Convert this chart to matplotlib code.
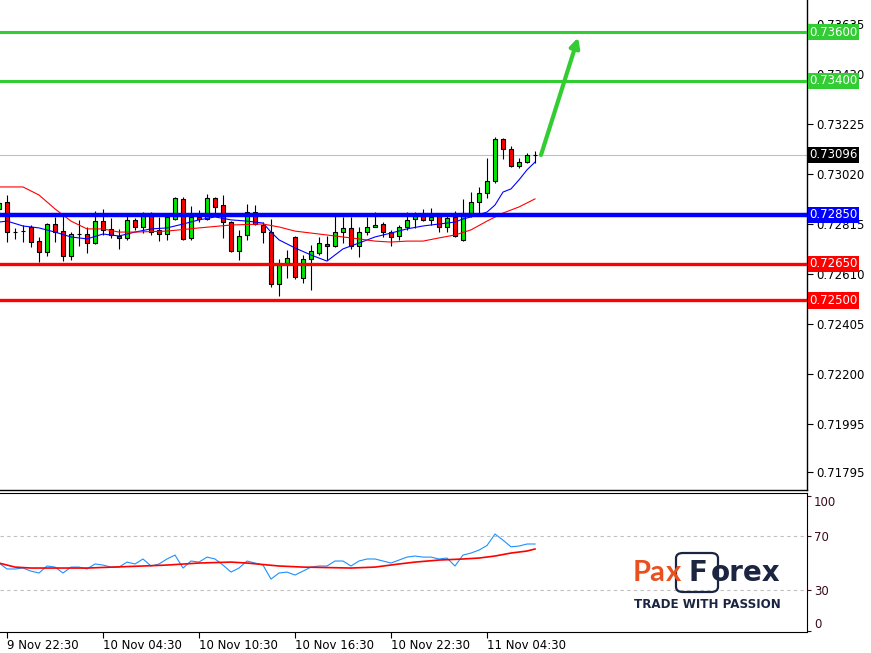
import numpy as np
import matplotlib
matplotlib.use("Agg")
import matplotlib.pyplot as plt
from matplotlib.patches import FancyBboxPatch

W, H = 871, 653

# M30 candles, index 0 = 9 Nov 22:30
candle_idx = list(range(-1, 67))
opens = [0.72875, 0.72903, 0.72782, 0.72786, 0.72801, 0.72743, 0.72698, 0.72813, 0.72784, 0.72682,
         0.72773, 0.72772, 0.72735, 0.72825, 0.72793, 0.72764, 0.72756, 0.72830, 0.72801, 0.72858,
         0.72789, 0.72772, 0.72834, 0.72916, 0.72756, 0.72842, 0.72834, 0.72920, 0.72891, 0.72821,
         0.72702, 0.72768, 0.72862, 0.72809, 0.72780, 0.72567, 0.72653, 0.72760, 0.72592, 0.72670,
         0.72694, 0.72731, 0.72723, 0.72780, 0.72797, 0.72723, 0.72780, 0.72801, 0.72813, 0.72780,
         0.72764, 0.72801, 0.72834, 0.72846, 0.72830, 0.72846, 0.72801, 0.72842, 0.72748, 0.72858,
         0.72903, 0.72940, 0.72989, 0.73162, 0.73121, 0.73051, 0.73067, 0.73096]
highs = [0.72912, 0.72932, 0.72797, 0.72809, 0.72809, 0.72760, 0.72817, 0.72842, 0.72858, 0.72780,
         0.72830, 0.72801, 0.72866, 0.72875, 0.72838, 0.72793, 0.72850, 0.72838, 0.72862, 0.72862,
         0.72842, 0.72854, 0.72922, 0.72924, 0.72887, 0.72871, 0.72936, 0.72924, 0.72932, 0.72825,
         0.72789, 0.72895, 0.72891, 0.72821, 0.72834, 0.72670, 0.72707, 0.72764, 0.72686, 0.72727,
         0.72760, 0.72764, 0.72858, 0.72842, 0.72842, 0.72801, 0.72842, 0.72862, 0.72821, 0.72789,
         0.72809, 0.72862, 0.72862, 0.72875, 0.72879, 0.72850, 0.72850, 0.72866, 0.72916, 0.72944,
         0.72965, 0.73084, 0.73170, 0.73166, 0.73133, 0.73084, 0.73104, 0.73112]
lows = [0.72862, 0.72739, 0.72752, 0.72739, 0.72719, 0.72657, 0.72682, 0.72739, 0.72661, 0.72666,
        0.72723, 0.72694, 0.72733, 0.72768, 0.72756, 0.72711, 0.72748, 0.72789, 0.72776, 0.72768,
        0.72743, 0.72748, 0.72830, 0.72748, 0.72748, 0.72821, 0.72830, 0.72850, 0.72756, 0.72698,
        0.72666, 0.72748, 0.72809, 0.72735, 0.72555, 0.72518, 0.72592, 0.72588, 0.72571, 0.72543,
        0.72686, 0.72666, 0.72719, 0.72735, 0.72711, 0.72678, 0.72768, 0.72800, 0.72760, 0.72723,
        0.72748, 0.72789, 0.72797, 0.72825, 0.72809, 0.72780, 0.72780, 0.72760, 0.72743, 0.72842,
        0.72854, 0.72920, 0.72981, 0.73080, 0.73047, 0.73043, 0.73063, 0.73063]
closes = [0.72899, 0.72780, 0.72779, 0.72783, 0.72739, 0.72698, 0.72813, 0.72780, 0.72682, 0.72772,
          0.72771, 0.72735, 0.72825, 0.72789, 0.72768, 0.72756, 0.72830, 0.72801, 0.72858, 0.72780,
          0.72772, 0.72842, 0.72920, 0.72752, 0.72842, 0.72834, 0.72920, 0.72883, 0.72821, 0.72702,
          0.72764, 0.72862, 0.72813, 0.72780, 0.72567, 0.72645, 0.72674, 0.72596, 0.72670, 0.72702,
          0.72735, 0.72723, 0.72780, 0.72797, 0.72723, 0.72780, 0.72801, 0.72809, 0.72780, 0.72760,
          0.72801, 0.72830, 0.72846, 0.72830, 0.72842, 0.72801, 0.72838, 0.72764, 0.72858, 0.72903,
          0.72940, 0.72989, 0.73162, 0.73121, 0.73051, 0.73067, 0.73096, 0.73096]

# moving averages
fast_ma_idx = [-1, 0, 2, 4, 6, 8, 10, 12, 14, 16, 18, 20, 22, 24, 26, 28, 30, 32, 33, 34,
               36, 38, 40, 42, 44, 46, 48, 50, 52, 54, 56, 57, 58, 60, 61, 62, 63, 64, 65, 66]
fast_ma = [0.72821, 0.72825, 0.72805, 0.72797, 0.72780, 0.72760, 0.72752, 0.72772, 0.72764, 0.72780,
           0.72793, 0.72797, 0.72813, 0.72830, 0.72842, 0.72830, 0.72825, 0.72817, 0.72780, 0.72748,
           0.72715, 0.72686, 0.72661, 0.72711, 0.72735, 0.72760, 0.72776, 0.72793, 0.72805, 0.72813,
           0.72821, 0.72834, 0.72842, 0.72862, 0.72891, 0.72944, 0.72957, 0.72994, 0.73035, 0.73067]
slow_ma_idx = [-1, 2, 4, 6, 8, 10, 12, 14, 16, 20, 24, 28, 32, 34, 36, 38, 40, 42, 44, 46,
               48, 50, 52, 54, 56, 58, 60, 62, 64, 66]
slow_ma = [0.72965, 0.72965, 0.72932, 0.72875, 0.72825, 0.72793, 0.72793, 0.72780, 0.72780, 0.72784,
           0.72797, 0.72809, 0.72813, 0.72801, 0.72784, 0.72776, 0.72768, 0.72760, 0.72752, 0.72743,
           0.72739, 0.72743, 0.72743, 0.72756, 0.72768, 0.72789, 0.72825, 0.72858, 0.72883, 0.72916]

# oscillator in the lower panel
osc = [50, 45.6, 45.6, 46.3, 44, 42.6, 47.8, 47, 42.6, 47, 47, 45.6, 49.3, 48.5, 47, 47, 50.7,
       49.3, 53, 47.8, 49.3, 53, 55.9, 46.3, 51.5, 50.7, 54.4, 53, 48.5, 43.3, 46.3, 51.5, 50,
       48.5, 38.1, 42.6, 43.3, 41.1, 44, 47, 47.8, 47.8, 51.5, 51.5, 47.8, 51.5, 53, 53, 51.5,
       50, 52.2, 54.4, 55.2, 54.4, 54.4, 53, 53.7, 47.8, 55.9, 57.4, 59.6, 63, 71.5, 67, 62,
       62.6, 64.1, 64.1]
osc_sig_idx = [-1, 1, 3, 10, 17, 20, 24, 28, 30, 34, 37, 43, 46, 49, 51, 54, 57, 59, 61, 63, 65, 66]
osc_sig = [50, 47, 46.3, 46.3, 47.8, 48.5, 50, 50.7, 50, 47.8, 47, 46.3, 47, 49.3, 50.7, 52.2,
           53, 53.7, 55.2, 57.4, 58.9, 60.4]

levels = [0.7360, 0.7340, 0.7285, 0.7265, 0.7250]
level_colors = ["#32CD32", "#32CD32", "#0000FF", "#FF0000", "#FF0000"]
level_widths = [2.2, 2.2, 3.2, 2.4, 2.4]
last_price = 0.73096
arrow_start = (66.75, 0.73096)
arrow_end = (71.4, 0.73578)

price_ticks = [0.73635, 0.73430, 0.73225, 0.73020, 0.72815, 0.72610, 0.72405, 0.72200, 0.71995, 0.71795]
time_ticks = [0, 12, 24, 36, 48, 60]
time_labels = ["9 Nov 22:30", "10 Nov 04:30", "10 Nov 10:30", "10 Nov 16:30", "10 Nov 22:30", "11 Nov 04:30"]
osc_ticks = [0, 30, 70, 100]

fig = plt.figure(figsize=(W / 100, H / 100), dpi=100)
ax = fig.add_axes([0, 1 - 490 / H, 807 / W, 490 / H])
ax2 = fig.add_axes([0, 1 - 632 / H, 807 / W, 139 / H])

# candles
idx = np.array(candle_idx)
o, hi, lo, c = (np.array(v) for v in (opens, highs, lows, closes))
up = c >= o
ax.vlines(idx, lo, hi, color="black", lw=0.8, zorder=3)
ax.bar(idx[up], (c - o)[up], bottom=o[up], width=0.62, color="#00E800",
       edgecolor="black", linewidth=0.8, zorder=4)
ax.bar(idx[~up], (o - c)[~up], bottom=c[~up], width=0.62, color="#FF0000",
       edgecolor="black", linewidth=0.8, zorder=4)

ax.plot(fast_ma_idx, fast_ma, color="#0000FF", lw=0.8, zorder=5)
ax.plot(slow_ma_idx, slow_ma, color="#FF0000", lw=0.8, zorder=5)

ax.axhline(last_price, color="#C0C0C0", lw=0.8, zorder=2)
for lv, col, lw in zip(levels, level_colors, level_widths):
    ax.axhline(lv, color=col, lw=lw, zorder=6)

ax.annotate("", xy=arrow_end, xytext=arrow_start,
            arrowprops=dict(arrowstyle="-|>", color="#33CC33", lw=3.0, mutation_scale=14,
                            shrinkA=0, shrinkB=0), zorder=7)

ax.set_xlim(-0.875, 100)
ax.set_ylim(0.717225, 0.737315)
ax.yaxis.tick_right()
ax.set_yticks(price_ticks)
ax.set_yticklabels([f"{t:.5f}" for t in price_ticks])
ax.tick_params(axis="y", direction="out", length=4, width=0.8, pad=3, labelsize=8.5, colors="black")
ax.tick_params(axis="x", bottom=False, labelbottom=False)
for s in ("top", "left"):
    ax.spines[s].set_visible(False)
for s in ("right", "bottom"):
    ax.spines[s].set_linewidth(1.0)

# coloured price labels on the scale
ytr = ax.get_yaxis_transform()
for lv, col in zip(levels + [last_price], level_colors + ["black"]):
    ax.text(1.003, lv, f"{lv:.5f}", transform=ytr, ha="left", va="center", fontsize=8.5,
            color="white", zorder=10, clip_on=False,
            bbox=dict(boxstyle="square,pad=0.14", facecolor=col, edgecolor="none"))

# lower panel
ax2.plot(candle_idx, osc, color="#1E90FF", lw=0.8)
ax2.plot(osc_sig_idx, osc_sig, color="#FF0000", lw=1.2)
for lv in (30, 70):
    ax2.axhline(lv, color="#C0C0C0", lw=0.8, ls=(0, (3, 3)))
ax2.set_xlim(-0.875, 100)
ax2.set_ylim(-1.1, 101.9)
ax2.yaxis.tick_right()
ax2.set_yticks(osc_ticks)
ax2.set_yticklabels([str(t) for t in osc_ticks])
ax2.tick_params(axis="y", direction="out", length=3, width=0.8, pad=2, labelsize=8.5, colors="#3a0b18")
for lab in ax2.get_yticklabels():
    if lab.get_text() == "100":
        lab.set_verticalalignment("top")
    elif lab.get_text() == "0":
        lab.set_verticalalignment("bottom")
ax2.set_xticks(time_ticks)
ax2.set_xticklabels(time_labels, ha="left")
ax2.tick_params(axis="x", direction="out", length=4, width=0.8, pad=1, labelsize=8.5, colors="black")
ax2.spines["left"].set_visible(False)


def px(x, y):
    return x / W, 1 - y / H


# logo
navy = "#1B2541"
orange = "#E8501E"
box = FancyBboxPatch(px(676, 592), 42 / W, 39 / H, boxstyle="round,pad=0,rounding_size=0.008",
                     transform=fig.transFigure, facecolor="none", edgecolor=navy, lw=1.6)
fig.add_artist(box)
fig.text(*px(633, 581), "Pa", color=orange, fontsize=21, fontweight="bold", family="Lato", va="baseline")
fig.text(*px(666, 581), "x", color=orange, fontsize=21, fontweight="bold", family="Lato", va="baseline")
fig.text(*px(688, 581), "F", color=navy, fontsize=20, fontweight="bold", family="DejaVu Sans", va="baseline")
fig.text(*px(711, 581), "orex", color=navy, fontsize=20, fontweight="bold", family="DejaVu Sans", va="baseline")
fig.text(*px(634, 604), "TRADE WITH PASSION", color=navy, fontsize=8.6, fontweight="bold",
         family="DejaVu Sans", va="center")

fig.savefig("out.png", dpi=100)
